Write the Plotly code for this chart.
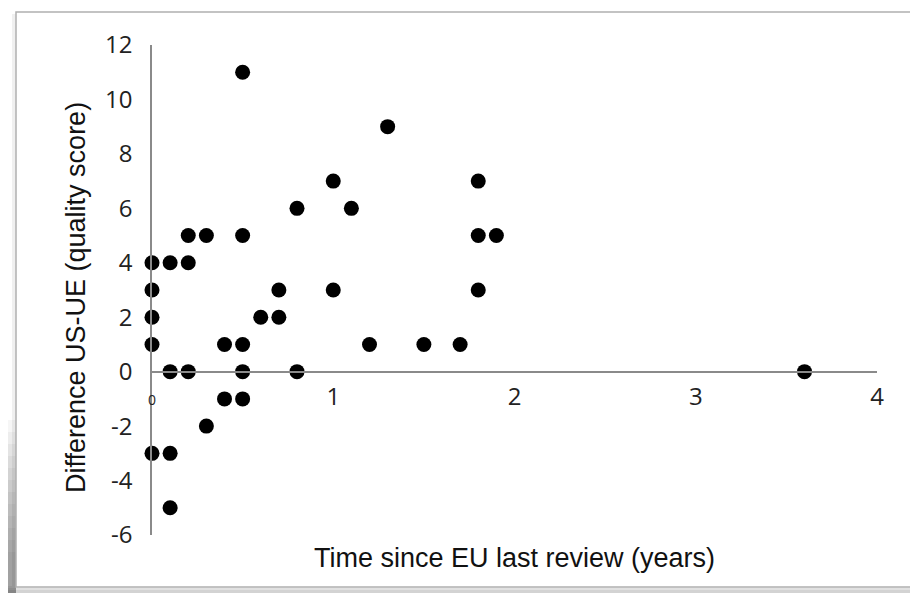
import plotly.graph_objects as go

# Data
years = [0, 0, 0, 0, 0,
         0.1, 0.1, 0.1, 0.1,
         0.2, 0.2, 0.2,
         0.3, 0.3,
         0.4, 0.4,
         0.5, 0.5, 0.5, 0.5, 0.5,
         0.6,
         0.7, 0.7,
         0.8, 0.8,
         1.0, 1.0,
         1.1, 1.2, 1.3, 1.5, 1.7,
         1.8, 1.8, 1.8,
         1.9,
         3.6]
diff = [4, 3, 2, 1, -3,
        4, 0, -3, -5,
        5, 4, 0,
        5, -2,
        1, -1,
        11, 5, 1, 0, -1,
        2,
        3, 2,
        6, 0,
        7, 3,
        6, 1, 9, 1, 1,
        7, 5, 3,
        5,
        0]

x_ticks = [0, 1, 2, 3, 4]
x_ticktext = ["<span style='font-size:14px'>0</span>", "1", "2", "3", "4"]
y_ticks = [-6, -4, -2, 0, 2, 4, 6, 8, 10, 12]
y_ticktext = ["-6", "-4", "-2", "0", "2", "4", "6", "8", "10", "12"]

W, H = 918, 593
OFF = 8  # page body margin
# plot area in screen pixels: x 152..877, y 45..535
L, R, T, B = 152 - OFF, W - (877 - OFF), 45 - OFF, H - (535 - OFF)
PW, PH = W - L - R, H - T - B


def px(x):
    return (x - OFF - L) / PW


def py(y):
    return (H - B - (y - OFF)) / PH


fig = go.Figure()
fig.add_trace(go.Scatter(
    x=years, y=diff, mode="markers",
    marker=dict(color="black", size=15, line=dict(width=0)),
    cliponaxis=False, showlegend=False,
))

shapes = []
# soft shadow on the lower left side and along the bottom
for i in range(12):
    y0 = 420 + i * 12
    shapes.append(dict(type="rect", xref="paper", yref="paper",
                       x0=px(0), x1=px(16), y0=py(600), y1=py(y0),
                       fillcolor="rgba(0,0,0,0.035)", line=dict(width=0), layer="below"))
for i in range(3):
    shapes.append(dict(type="rect", xref="paper", yref="paper",
                       x0=px(0), x1=px(918), y0=py(600), y1=py(586 + i * 2),
                       fillcolor="rgba(0,0,0,0.06)", line=dict(width=0), layer="below"))
shapes.append(dict(type="rect", xref="paper", yref="paper",
                   x0=px(12), x1=px(16), y0=py(586), y1=py(14),
                   fillcolor="rgba(0,0,0,0.06)", line=dict(width=0), layer="below"))
# frame
shapes.append(dict(type="rect", xref="paper", yref="paper",
                   x0=px(16), x1=px(913), y0=py(587), y1=py(12),
                   fillcolor="white", line=dict(color="#b0b0b0", width=1.5), layer="below"))

fig.update_layout(
    width=W, height=H,
    margin=dict(l=L, r=R, t=T, b=B),
    paper_bgcolor="white", plot_bgcolor="rgba(0,0,0,0)",
    font=dict(family="'Open Sans', 'Liberation Sans', sans-serif", color="#222222"),
    shapes=shapes,
    xaxis=dict(
        range=[0, 4], anchor="free", position=1/3,
        tickvals=x_ticks, ticktext=x_ticktext,
        showgrid=False, zeroline=False,
        showline=True, linecolor="#8a8a8a", linewidth=1.5,
        ticks="", ticklabelstandoff=4,
        tickfont=dict(size=24, color="#222222"),
    ),
    yaxis=dict(
        range=[-6, 12], tickvals=y_ticks, ticktext=y_ticktext,
        showgrid=False, zeroline=False,
        showline=True, linecolor="#8a8a8a", linewidth=1.5,
        ticks="", ticklabelstandoff=13,
        tickfont=dict(size=24, color="#222222"),
    ),
    annotations=[
        dict(text="Time since EU last review (years)", xref="paper", yref="paper",
             x=px(514), y=py(558), xanchor="center", yanchor="middle", showarrow=False,
             font=dict(family="'Liberation Sans', Arial, sans-serif", size=27, color="#111111")),
        dict(text="Difference US-UE (quality score)", xref="paper", yref="paper",
             x=px(76), y=py(298), xanchor="center", yanchor="middle", showarrow=False,
             textangle=-90,
             font=dict(family="'Liberation Sans', Arial, sans-serif", size=27, color="#111111")),
    ],
)

fig.write_html("out.html")
